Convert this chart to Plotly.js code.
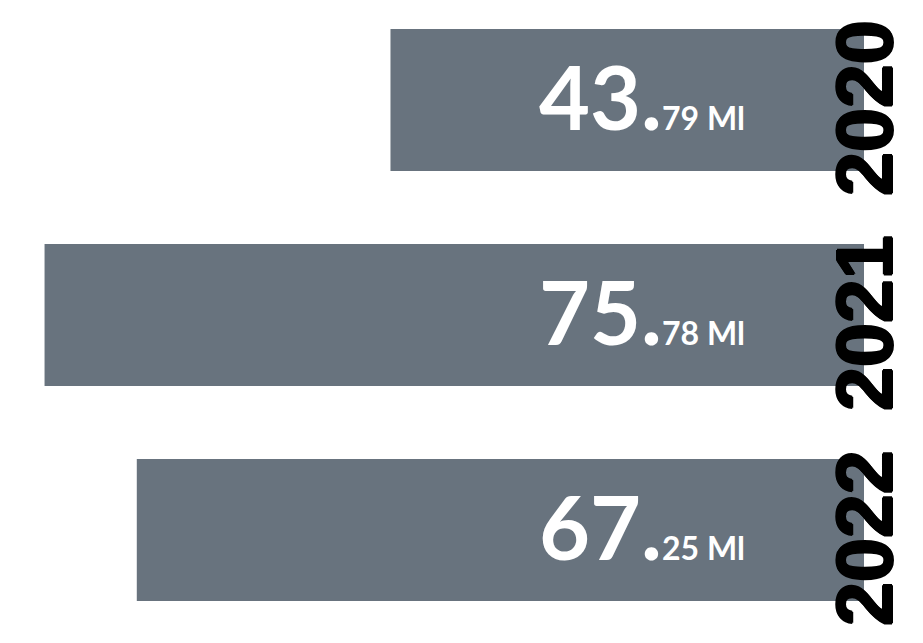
<!DOCTYPE html>
<html>
<head>
<meta charset="utf-8">
<script src="https://cdn.plot.ly/plotly-3.0.1.min.js"></script>
<style>html,body{margin:0;padding:0;background:#fff;}#chart{width:923px;height:643px;}</style>
</head>
<body>
<div id="chart"></div>
<script>
const years = ["2020", "2021", "2022"];
const values = [43.79, 75.78, 67.25];
const unit = "Ml";
const barColor = "#68737e";

const valueAnnotations = years.map((y, i) => {
  const parts = values[i].toFixed(2).split(".");
  return {
    x: 1, y: i, xref: "paper", yref: "y",
    xanchor: "right", yanchor: "middle",
    xshift: -117, yshift: 4,
    showarrow: false,
    text: parts[0] + ".<span style='font-size:32px'>" + parts[1] + " " + unit + "</span>",
    font: {family: "Lato, 'Open Sans', sans-serif", size: 88, color: "#ffffff", weight: 700}
  };
});

const thick = "1.2px 0 0 #000, -1.2px 0 0 #000, 0 1.2px 0 #000, 0 -1.2px 0 #000";
const yearAnnotations = years.map((y, i) => ({
  x: 1, y: i, xref: "paper", yref: "y",
  xanchor: "center", yanchor: "middle",
  yshift: -8,
  textangle: -90,
  showarrow: false,
  text: y,
  font: {family: "'Liberation Sans', Arial, sans-serif", size: 79, color: "#000000", weight: 700, shadow: thick}
}));

const trace = {
  type: "bar",
  orientation: "h",
  y: years,
  x: values,
  marker: {color: barColor},
  hoverinfo: "skip"
};

const layout = {
  width: 923, height: 643,
  margin: {l: 0, r: 59, t: 0, b: 0},
  paper_bgcolor: "#ffffff",
  plot_bgcolor: "#ffffff",
  showlegend: false,
  bargap: 0.34,
  xaxis: {range: [79.9, 0], visible: false, fixedrange: true},
  yaxis: {type: "category", range: [2.5256, -0.4651], visible: false, fixedrange: true},
  annotations: valueAnnotations.concat(yearAnnotations)
};

Plotly.newPlot("chart", [trace], layout, {displayModeBar: false, staticPlot: true});
</script>
</body>
</html>
